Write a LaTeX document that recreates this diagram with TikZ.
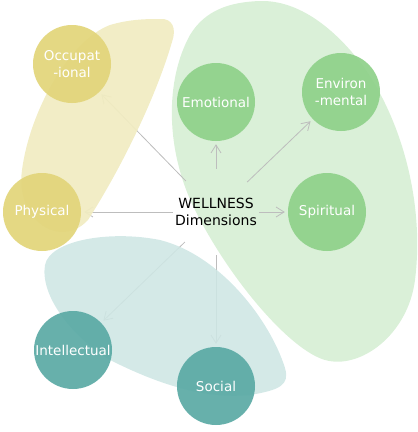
\documentclass[tikz,border=0pt]{standalone}
\usepackage{fontspec}
\setmainfont{DejaVu Sans}
\usetikzlibrary{arrows.meta}

\definecolor{yelblob}{HTML}{F1ECC2}
\definecolor{grnblob}{HTML}{DAF0D8}
\definecolor{blublob}{HTML}{CEE6E4}
\definecolor{yeldim}{HTML}{E2D57A}
\definecolor{grndim}{HTML}{8FD18A}
\definecolor{bludim}{HTML}{5BAAA5}
\definecolor{linkgray}{HTML}{BDBDBD}

\pgfdeclarelayer{blobs}
\pgfdeclarelayer{links}
\pgfsetlayers{blobs,links,main}

\begin{document}
\begin{tikzpicture}[x=1pt, y=-1pt,
    dim/.style={circle, minimum size=78pt, inner sep=0pt, align=center,
      text=white, fill opacity=0.93, text opacity=1,
      font=\fontsize{13.5}{17.5}\selectfont},
    link/.style={->, >={Straight Barb[length=8pt, width=10pt]},
      draw=linkgray, line width=0.8pt, shorten >=3pt}]
    \useasboundingbox (0, 0) rectangle (418, 432);
    % groups
    \fill[yelblob, opacity=0.94]
      (160, 19) .. controls (172, 18) and (177, 28) .. (172, 42)
      .. controls (155, 100) and (120, 170) .. (88, 220)
      .. controls (60, 250) and (15, 220) .. (22, 170)
      .. controls (30, 110) and (70, 40) .. (110, 25)
      .. controls (130, 19) and (148, 19) .. (160, 19);
    \fill[blublob, opacity=0.88]
      (45, 265) .. controls (50, 240) and (110, 230) .. (160, 240)
      .. controls (220, 255) and (270, 320) .. (285, 368)
      .. controls (290, 385) and (280, 390) .. (250, 395)
      .. controls (200, 400) and (150, 380) .. (110, 360)
      .. controls (70, 335) and (40, 295) .. (45, 265);
    \begin{pgfonlayer}{blobs}
      \fill[grnblob]
        (260, 1) .. controls (300, 0) and (335, 30) .. (360, 62)
        .. controls (400, 115) and (425, 200) .. (415, 280)
        .. controls (408, 335) and (360, 370) .. (325, 360)
        .. controls (290, 350) and (230, 280) .. (195, 210)
        .. controls (165, 150) and (165, 80) .. (190, 35)
        .. controls (205, 10) and (230, 2) .. (260, 1);
    \end{pgfonlayer}
    % dimensions
    \node[circle, minimum size=76pt, inner sep=0pt, align=center,
      font=\fontsize{14}{16.5}\selectfont] at (216, 212) (wd)
      {WELLNESS\\Dimensions};
    \node[dim, fill=yeldim] at (72, 64) (occ) {Occupat\\-ional};
    \node[dim, fill=yeldim] at (42, 212) (phy) {Physical};
    \node[dim, fill=grndim] at (216, 102) (emo) {Emotional};
    \node[dim, fill=grndim] at (341, 92) (env) {Environ\\-mental};
    \node[dim, fill=grndim] at (327, 212) (spi) {Spiritual};
    \node[dim, fill=bludim] at (73, 350) (int) {Intellectual};
    \node[dim, fill=bludim] at (216, 386) (soc) {Social};
    \begin{pgfonlayer}{links}
      \path[link]
        (wd) edge (emo)
        (wd) edge (env)
        (wd) edge (spi)
        (wd) edge (phy)
        (wd) edge (occ)
        (wd) edge (int)
        (wd) edge (soc);
    \end{pgfonlayer}
  \end{tikzpicture}
\end{document}
